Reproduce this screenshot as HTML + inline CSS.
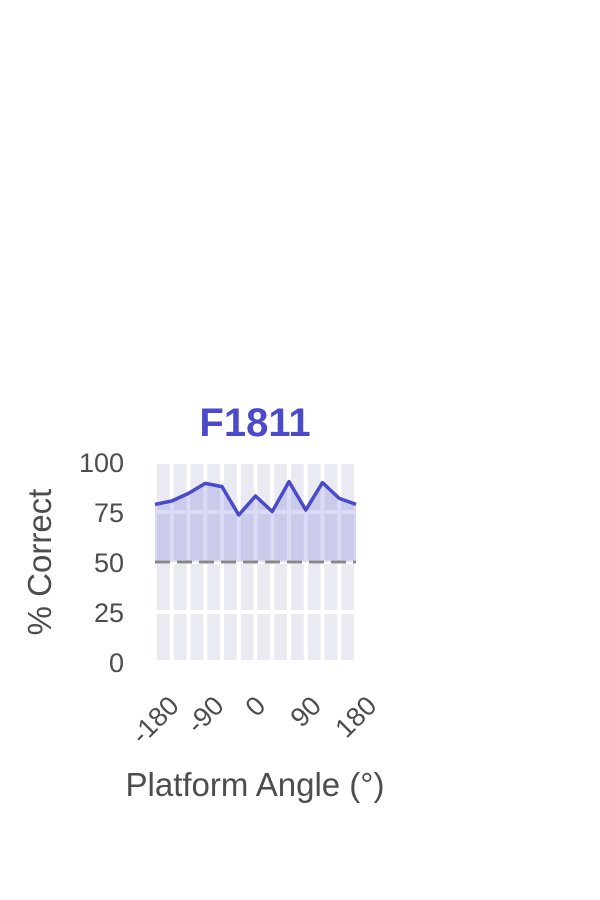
<!DOCTYPE html>
<html><head><meta charset="utf-8"><style>
body{margin:0;background:#fff;}
svg{display:block;font-family:"Liberation Sans",Arial,sans-serif;}
</style></head><body>
<svg id="chart" width="600" height="900">
<text x="255" y="436" text-anchor="middle" font-size="40" font-weight="bold" fill="#4a4acb">F1811</text>
<text transform="translate(51,562) rotate(-90)" text-anchor="middle" font-size="33" fill="#4d4d4d">% Correct</text>
<text x="255" y="796" text-anchor="middle" font-size="33" fill="#4d4d4d">Platform Angle (°)</text>
<g id="plot"></g>
</svg>
<script>
const angles=[-180,-150,-120,-90,-60,-30,0,30,60,90,120,150,180];
const values=[78.8,80.5,84.3,89.3,87.7,73.5,83,75.2,90.2,76,89.7,81.8,78.8];
const xTicks=[-180,-90,0,90,180];
const yTicks=[0,25,50,75,100];
const chance=50;
const X0=155,X1=356,Y0=662,Y1=462;
const sx=a=>X0+(a+180)/360*(X1-X0);
const sy=v=>Y0-(v/100)*(Y0-Y1);
const NS="http://www.w3.org/2000/svg";
const g=document.getElementById('plot');
function mk(t,at){const e=document.createElementNS(NS,t);for(const k in at)e.setAttribute(k,at[k]);g.appendChild(e);return e;}
let bg=mk('rect',{x:X0,y:Y1,width:X1-X0,height:Y0-Y1,fill:'#eaeaf2'});


for(let a=-180;a<=180;a+=30){let l=mk('line',{x1:sx(a),x2:sx(a),y1:Y1,y2:Y0,stroke:'#fff','stroke-width':4});

}
yTicks.forEach(v=>{let l=mk('line',{x1:X0,x2:X1,y1:sy(v),y2:sy(v),stroke:'#fff','stroke-width':4});


let t=mk('text',{x:X0-31,y:sy(v)+10,'text-anchor':'end','font-size':27,fill:'#4d4d4d'});t.textContent=v;

});
let pts=angles.map((a,i)=>sx(a)+','+sy(values[i]));
let area=mk('polygon',{points:pts.join(' ')+' '+sx(180)+','+sy(chance)+' '+sx(-180)+','+sy(chance),fill:'rgba(74,74,203,0.2)'});


let dl=mk('line',{x1:X0,x2:X1,y1:sy(chance),y2:sy(chance),stroke:'#888','stroke-width':3,'stroke-dasharray':'15,7'});


let ln=mk('polyline',{points:pts.join(' '),fill:'none',stroke:'#4a4acb','stroke-width':3.5,'stroke-linejoin':'round'});


xTicks.forEach(a=>{let t=mk('text',{'text-anchor':'middle','font-size':27,fill:'#4d4d4d','dominant-baseline':'central'});t.textContent=a;


const w=t.getComputedTextLength(),h=20;
const yc=694+(w+h)/Math.SQRT2/2;
t.setAttribute('x',sx(a));t.setAttribute('y',yc);
t.setAttribute('transform',`rotate(-45 ${sx(a)} ${yc})`);});
</script>
</body></html>
